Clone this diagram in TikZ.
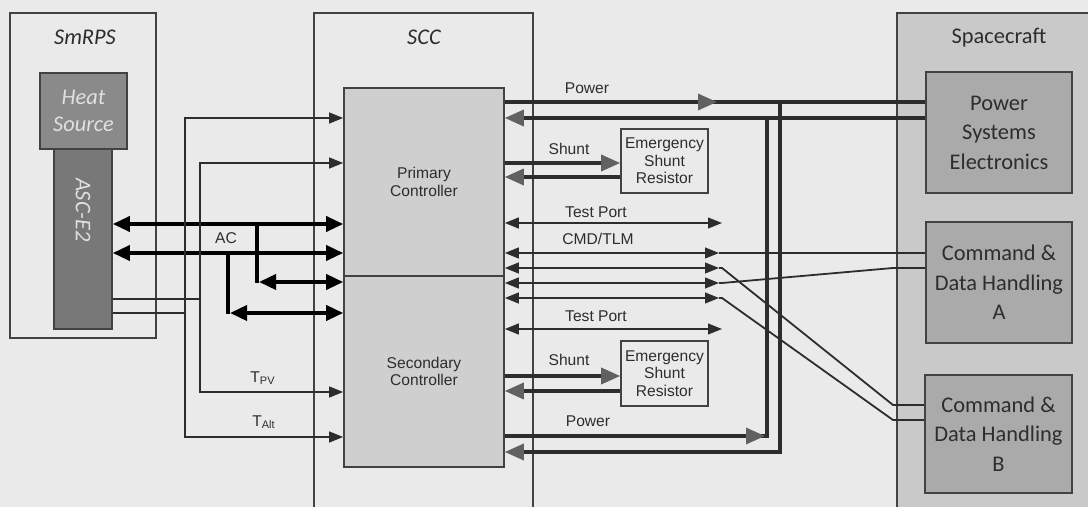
\documentclass[tikz,border=0pt]{standalone}
\usepackage{fontspec}
\setmainfont{Liberation Sans}
\newfontfamily\calibri{Carlito}
\usetikzlibrary{arrows.meta,fit,positioning}
\definecolor{paper}{RGB}{234,234,234}
\definecolor{ink}{RGB}{45,45,45}
\definecolor{ctrlfill}{RGB}{207,207,207}
\definecolor{craftfill}{RGB}{201,201,201}
\definecolor{unitfill}{RGB}{170,170,170}
\definecolor{heatfill}{RGB}{138,138,138}
\definecolor{ascfill}{RGB}{120,120,120}
\begin{document}
\begin{tikzpicture}[x=.5pt,y=-.5pt,line cap=butt,
 box/.style={draw=ink!90,line width=.8pt,inner sep=0pt},
 lbl/.style={font=\fontsize{7.8}{8.8}\selectfont,text=ink,align=center},
 big/.style={font=\calibri\fontsize{11.2}{14.8}\selectfont,text=ink,align=center},
 ttl/.style={font=\calibri\itshape\fontsize{11.2}{14}\selectfont,text=ink},
 inv/.style={font=\calibri\itshape\fontsize{11.2}{13.5}\selectfont,text=white!88!black,align=center},
 sig/.style={draw=ink,line width=.9pt},
 sigarr/.style={sig,-{Triangle[length=7pt,width=5.4pt]}},
 sigdbl/.style={sig,{Triangle[length=7pt,width=5.4pt]}-{Triangle[length=7pt,width=5.4pt]}},
 pw/.style={draw=ink,line width=1.7pt},
 pwarr/.style={pw,-{Triangle[length=9.5pt,width=8pt,color=ink!75]}},
 acline/.style={draw=black,line width=1.8pt},
 acdbl/.style={acline,{Triangle[length=8.5pt,width=7.5pt]}-{Triangle[length=8.5pt,width=7.5pt]}}]
\clip (0,0) rectangle (1088,507); \fill[paper] (0,0) rectangle (1088,507);
% SmRPS
\node[box,fit={(10,13)(156,338)}] (smrps) {};
\node[box,fill=heatfill,fit={(40,73)(127,149)}] (heat) {};
\node[box,fill=ascfill,fit={(54,149)(112,329)}] (asc) {};
% SCC
\node[box,fit={(314,13)(533,530)}] (scc) {};
\node[box,fill=ctrlfill,fit={(344,88)(504,276)}] (pc) {};
\node[box,fill=ctrlfill,fit={(344,276)(504,467)}] (sc) {};
\node[box,fit={(621,129)(708,193)}] (esra) {};
\node[box,fit={(621,341)(708,406)}] (esrb) {};
% Spacecraft
\node[box,fill=craftfill,fit={(897,13)(1110,530)}] (craft) {};
\node[box,fill=unitfill,fit={(926,72)(1072,193)}] (pse) {};
\node[box,fill=unitfill,fit={(926,222)(1072,343)}] (cdha) {};
\node[box,fill=unitfill,fit={(925,375)(1072,493)}] (cdhb) {};
\coordinate (pwo) at (717,102); \coordinate (ja) at (767,118); \coordinate (jb) at (780,102);
\coordinate (ka) at (767,436); \coordinate (kb) at (780,452);
\draw[pw] (pc.east|-pwo) -- (pse.west|-pwo); \draw[pwarr] (pc.east|-pwo) -- (pwo);
\draw[pwarr] (pse.west|-ja) -- (pc.east|-ja);
\draw[pwarr] (pc.east|-0,163) -- (esra.west|-0,163); \draw[pwarr] (esra.west|-0,177) -- (pc.east|-0,177);
\draw[pwarr] (sc.east|-0,376) -- (esrb.west|-0,376); \draw[pwarr] (esrb.west|-0,391) -- (sc.east|-0,391);
\draw[pw] (sc.east|-ka) -- (ka) -- (ja); \draw[pwarr] (sc.east|-ka) -- ([xshift=-1pt]ka);
\draw[pwarr] (jb) -- (kb) -- (sc.east|-kb);
\coordinate (c1) at (719,253); \coordinate (c2) at (719,268); \coordinate (c3) at (719,283); \coordinate (c4) at (719,298);
\draw[sig] (c1) -- (cdha.west|-c1);
\draw[sig] (c2) -- (722,268) -- (893,405) -- (cdhb.west|-0,405);
\draw[sig] (c3) -- (722,283) -- (893,268) -- (cdha.west|-0,268);
\draw[sig] (c4) -- (722,298) -- (893,420) -- (cdhb.west|-0,420);
\draw[sigdbl] (pc.east|-0,223) -- (722,223); \draw[sigdbl] (sc.east|-0,329) -- (722,329);
\draw[sigdbl] (pc.east|-c1) -- (c1); \draw[sigdbl] (pc.east|-c2) -- (c2);
\draw[sigdbl] (sc.east|-c3) -- (c3); \draw[sigdbl] (sc.east|-c4) -- (c4);
% AC and temperatures
\draw[acdbl] (asc.east|-0,224) -- (pc.west|-0,224); \draw[acdbl] (asc.east|-0,253) -- (pc.west|-0,253);
\draw[acline] (257,224) -- (257,283); \draw[acdbl] (259,282) -- (sc.west|-0,282);
\draw[acline] (228,253) -- (228,314); \draw[acdbl] (230,313) -- (sc.west|-0,313);
\draw[sigarr] (200,299) |- (pc.west|-0,163); \draw[sigarr] (asc.east|-0,299) -| (200,392) -- (sc.west|-0,392);
\draw[sigarr] (185,313) |- (pc.west|-0,118); \draw[sigarr] (asc.east|-0,313) -| (185,437) -- (sc.west|-0,437);
% texts
\node[ttl] (smrpst) at (85,37) {SmRPS}; \node[ttl] (scct) at (424,37) {SCC}; \node[big] (craftt) at (999,38) {Spacecraft};
\node[inv] (heatt) at (heat) {Heat\\Source}; \node[inv,rotate=-90] (asct) at (83,210) {ASC-E2};
\node[lbl] (pct) at (pc) {Primary\\Controller}; \node[lbl] (sct) at (sc) {Secondary\\Controller};
\node[lbl] (esrat) at (esra) {Emergency\\Shunt\\Resistor}; \node[lbl] (esrbt) at (esrb) {Emergency\\Shunt\\Resistor};
\node[big] (pset) at (pse) {Power\\Systems\\Electronics};
\node[big] (cdhat) at (cdha) {Command \&\\Data Handling\\A}; \node[big] (cdhbt) at (cdhb) {Command \&\\Data Handling\\B};
\node[lbl] (pwat) at (587,88) {Power}; \node[lbl] (shat) at (569,149) {Shunt}; \node[lbl] (tpat) at (596,212) {Test Port};
\node[lbl] (cmdt) at (598,239) {CMD/TLM}; \node[lbl] (tpbt) at (596,316) {Test Port}; \node[lbl] (shbt) at (569,360) {Shunt};
\node[lbl] (pwbt) at (588,421) {Power}; \node[lbl] (act) at (226,238) {AC};
\node[lbl] (tpvt) at (263,378) {T\textsubscript{PV}}; \node[lbl] (taltt) at (264,422) {T\textsubscript{Alt}};
\end{tikzpicture}
\end{document}
